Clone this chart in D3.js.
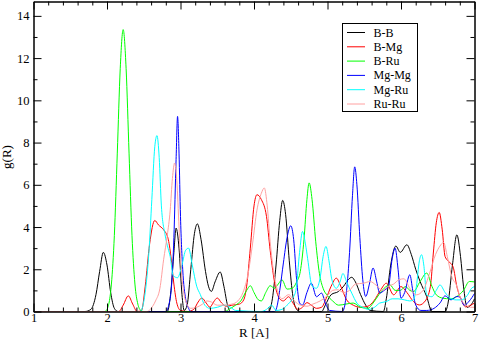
<!DOCTYPE html>
<html>
<head>
<meta charset="utf-8">
<script src="https://cdn.jsdelivr.net/npm/d3@7"></script>
<style>
body { margin: 0; background: #fff; }
svg { display: block; }
</style>
</head>
<body>
<svg width="480" height="340"></svg>
<script>
var names = ["B-B", "B-Mg", "B-Ru", "Mg-Mg", "Mg-Ru", "Ru-Ru"];
var colors = ["#000000", "#ff0000", "#00ff00", "#0000ff", "#00ffff", "#ffa0a0"];

// [R, g(R)]
var BB = [[1.0,0],[1.7,0],[1.78,0.1],[1.85,0.8],[1.9,1.9],[1.95,2.8],[2.0,2.2],[2.05,0.9],[2.1,0.15],[2.15,0],
	[2.82,0],[2.87,1.0],[2.91,2.8],[2.94,3.95],[2.98,3.0],[3.02,0.8],[3.05,0.05],[3.09,0.3],[3.14,2.0],[3.19,3.7],
	[3.23,4.15],[3.28,3.4],[3.34,1.9],[3.38,1.2],[3.42,0.95],[3.47,1.4],[3.54,1.87],[3.59,1.2],[3.64,0.3],[3.68,0],
	[4.2,0],[4.25,0.6],[4.3,2.2],[4.35,4.3],[4.39,5.26],[4.43,4.6],[4.48,2.4],[4.53,0.7],[4.58,0.1],[4.62,0],
	[4.92,0],[4.97,0.3],[5.05,0.8],[5.15,0.95],[5.22,1.2],[5.28,1.5],[5.33,1.62],[5.38,1.4],[5.45,0.8],[5.52,0.3],
	[5.58,0.05],[5.76,0],[5.8,0.6],[5.86,2.2],[5.93,3.1],[5.99,2.8],[6.08,3.16],[6.14,2.7],[6.2,2.0],[6.26,1.42],
	[6.35,0.7],[6.42,0],[6.6,0],[6.64,0.4],[6.7,2.2],[6.76,3.63],[6.81,2.6],[6.85,1.2],[6.9,0.2],[6.95,0.3],[7.0,0.6]];

var BMg = [[1.0,0],[2.16,0],[2.22,0.3],[2.29,0.74],[2.35,0.35],[2.41,0],[2.47,0.05],[2.52,1.2],[2.58,3.2],[2.65,4.31],
	[2.7,4.1],[2.77,3.87],[2.83,3.47],[2.87,2.6],[2.91,1.3],[2.95,0.4],[3.0,0.05],[3.1,0],[3.18,0.1],[3.24,0.45],
	[3.29,0.64],[3.35,0.4],[3.4,0.2],[3.45,0.45],[3.5,0.64],[3.56,0.4],[3.62,0.25],[3.7,0.3],[3.8,0.35],[3.86,0.55],
	[3.9,1.2],[3.95,3.0],[4.0,5.0],[4.04,5.53],[4.1,5.3],[4.17,4.5],[4.22,2.9],[4.29,1.2],[4.35,0.6],[4.4,0.5],
	[4.47,0.7],[4.53,0.4],[4.6,0.1],[4.66,0.2],[4.72,0.42],[4.78,0.3],[4.85,0.15],[4.92,0.2],[4.98,0.6],[5.05,1.2],
	[5.12,1.58],[5.18,1.2],[5.26,0.55],[5.35,0.3],[5.45,0.2],[5.55,0.25],[5.63,0.5],[5.72,1.0],[5.8,1.34],[5.9,0.79],
	[6.0,1.18],[6.08,0.9],[6.17,0.47],[6.25,0.31],[6.33,0.5],[6.4,1.19],[6.44,2.77],[6.48,4.2],[6.52,4.69],[6.56,3.9],
	[6.6,2.6],[6.67,2.3],[6.71,2.1],[6.76,1.18],[6.82,0.55],[6.88,0.22],[6.95,0.3],[7.0,0.4]];

var BRu = [[1.0,0],[1.97,0],[2.0,0.1],[2.06,1.3],[2.1,3.6],[2.14,7.5],[2.18,11.5],[2.22,13.35],[2.26,11.5],[2.3,7.5],
	[2.34,3.6],[2.38,1.3],[2.42,0.35],[2.46,0.05],[2.5,0],[3.6,0],[3.68,0.15],[3.75,0.3],[3.82,0.5],[3.9,1.0],
	[3.95,1.22],[4.0,0.9],[4.06,0.55],[4.1,0.5],[4.16,0.9],[4.22,1.22],[4.28,1.1],[4.33,1.3],[4.38,1.5],[4.45,1.06],
	[4.52,1.1],[4.58,1.4],[4.63,1.9],[4.68,3.4],[4.72,5.3],[4.75,6.09],[4.79,5.3],[4.84,3.3],[4.89,1.8],[4.94,1.1],
	[5.0,0.75],[5.07,0.5],[5.15,0.3],[5.25,0.35],[5.35,0.4],[5.45,0.2],[5.55,0.15],[5.62,0.4],[5.7,0.8],[5.77,1.1],
	[5.85,1.26],[5.92,1.0],[5.99,1.0],[6.06,1.18],[6.12,1.0],[6.17,0.95],[6.26,1.42],[6.35,1.82],[6.42,1.2],[6.48,0.79],
	[6.57,0.63],[6.67,0.6],[6.76,0.71],[6.85,1.0],[6.93,1.42],[7.0,1.4]];

var MgMg = [[1.0,0],[2.8,0],[2.84,0.3],[2.88,1.3],[2.91,3.5],[2.94,7.2],[2.96,9.24],[2.98,7.5],[3.0,4.5],[3.03,2.0],
	[3.07,0.6],[3.11,0.15],[3.14,0],[4.28,0],[4.31,0.2],[4.35,1.0],[4.4,2.3],[4.45,3.5],[4.5,4.06],[4.54,3.4],
	[4.58,1.5],[4.62,0.4],[4.66,0.3],[4.72,0.9],[4.78,1.34],[4.85,0.7],[4.92,0.87],[4.97,0.4],[5.03,0.05],[5.2,0],
	[5.23,0.2],[5.26,1.0],[5.3,2.8],[5.34,5.5],[5.37,6.85],[5.4,6.0],[5.44,3.5],[5.48,1.5],[5.52,0.71],[5.57,1.3],
	[5.62,2.06],[5.67,1.4],[5.71,0.87],[5.77,1.0],[5.83,1.19],[5.88,2.5],[5.92,3.0],[5.96,2.0],[6.0,0.63],[6.05,0.9],
	[6.12,1.74],[6.16,1.0],[6.2,0.31],[6.27,0.05],[6.35,0.05],[6.45,0.15],[6.53,0.4],[6.6,0.74],[6.68,0.55],[6.76,0.71],
	[6.8,0.68],[6.86,0.3],[6.93,0.5],[7.0,0.85]];

var MgRu = [[1.0,0],[2.45,0],[2.49,0.3],[2.53,1.2],[2.57,2.8],[2.61,5.3],[2.65,7.8],[2.68,8.33],[2.71,7.3],[2.74,5.0],
	[2.79,3.63],[2.83,3.0],[2.86,2.6],[2.9,1.7],[2.96,1.6],[3.02,2.2],[3.07,2.9],[3.11,3.0],[3.16,2.2],[3.22,1.2],
	[3.27,0.8],[3.33,0.3],[3.4,0.15],[3.5,0.2],[3.6,0.3],[3.68,0.2],[3.75,0.05],[4.1,0],[4.17,0.1],[4.24,0.3],
	[4.3,0.05],[4.38,0.1],[4.45,0.3],[4.52,0.6],[4.57,1.0],[4.62,2.8],[4.66,3.79],[4.7,3.2],[4.73,2.5],[4.79,1.2],
	[4.85,1.1],[4.9,1.6],[4.94,2.6],[4.98,3.08],[5.02,2.4],[5.06,1.5],[5.12,1.1],[5.17,1.4],[5.21,1.8],[5.26,1.4],
	[5.33,0.87],[5.4,0.4],[5.48,0.2],[5.56,0.1],[5.64,0.2],[5.71,0.4],[5.8,0.47],[5.88,0.6],[5.96,0.6],[6.05,0.55],
	[6.12,0.5],[6.17,0.55],[6.21,1.2],[6.25,2.4],[6.28,2.69],[6.31,2.2],[6.35,0.79],[6.42,0.7],[6.48,1.0],[6.53,1.26],
	[6.6,0.9],[6.67,0.63],[6.75,0.55],[6.82,0.55],[6.9,0.75],[6.96,1.1],[7.0,1.18]];

var RuRu = [[1.0,0],[2.55,0],[2.6,0.15],[2.66,0.5],[2.72,1.1],[2.77,2.45],[2.82,3.6],[2.86,4.8],[2.89,6.3],[2.92,7.03],
	[2.95,6.2],[2.98,4.0],[3.01,2.0],[3.04,1.0],[3.08,0.4],[3.14,0.15],[3.22,0.2],[3.3,0.35],[3.36,0.5],[3.42,0.45],
	[3.5,0.3],[3.6,0.3],[3.7,0.35],[3.78,0.5],[3.85,0.9],[3.92,1.8],[3.98,3.2],[4.04,4.8],[4.1,5.6],[4.14,5.85],
	[4.18,5.0],[4.22,3.3],[4.27,1.8],[4.32,1.0],[4.38,0.6],[4.47,0.8],[4.55,0.5],[4.63,0.3],[4.72,0.25],[4.8,0.35],
	[4.9,0.5],[5.0,0.75],[5.07,1.0],[5.14,1.03],[5.22,0.9],[5.3,1.0],[5.38,1.3],[5.49,1.34],[5.58,1.42],[5.66,1.25],
	[5.75,1.0],[5.82,1.18],[5.9,1.3],[5.97,1.5],[6.04,1.55],[6.12,1.1],[6.21,0.79],[6.3,1.0],[6.39,1.82],[6.47,2.7],
	[6.53,3.1],[6.58,3.27],[6.63,2.6],[6.69,1.66],[6.76,1.2],[6.8,0.71],[6.88,0.31],[6.95,0.2],[7.0,0.2]];

var series = [BB, BMg, BRu, MgMg, MgRu, RuRu];

var xTicks = [1, 2, 3, 4, 5, 6, 7];
var yTicks = [0, 2, 4, 6, 8, 10, 12, 14];
var xLabel = "R [A]",
	yLabel = "g(R)";

var font = "'Liberation Serif', 'Times New Roman', serif";

var svg = d3.select("svg");

var x = d3.scaleLinear().domain([1, 7]).range([33.5, 474.5]);
var y = d3.scaleLinear().domain([0, 14.68]).range([311.5, 1.5]);

var xMinor = d3.range(1, 7.001, 0.2).filter(function(d) { return Math.abs(d - Math.round(d)) > 0.01; });
var yMinor = [1, 3, 5, 7, 9, 11, 13];

var line = d3.line()
	.x(function(d) { return x(d[0]); })
	.y(function(d) { return y(d[1]); })
	.curve(d3.curveMonotoneX);

svg.append("g")
	.selectAll("path")
	.data(series)
	.enter().append("path")
	.attr("fill", "none")
	.attr("stroke", function(d, i) { return colors[i]; })
	.attr("stroke-width", 1)
	.attr("stroke-linejoin", "round")
	.attr("d", line);

function styleAxis(sel) {
	sel.attr("font-family", font).attr("font-size", 12.5);
	sel.selectAll("line").attr("stroke", "#000");
	sel.selectAll("path").attr("stroke", "#000");
	sel.selectAll("text").attr("fill", "#000");
}

// major ticks, all four sides, pointing inward
svg.append("g")
	.attr("transform", "translate(0,311.5)")
	.call(d3.axisBottom(x).tickValues(xTicks).tickSize(-8).tickSizeOuter(0).tickPadding(2).tickFormat(d3.format("d")))
	.call(styleAxis);
svg.append("g")
	.attr("transform", "translate(0,1.5)")
	.call(d3.axisTop(x).tickValues(xTicks).tickSize(-8).tickSizeOuter(0).tickFormat(""))
	.call(styleAxis);
svg.append("g")
	.attr("transform", "translate(33.5,0)")
	.call(d3.axisLeft(y).tickValues(yTicks).tickSize(-8).tickSizeOuter(0).tickPadding(4).tickFormat(d3.format("d")))
	.call(styleAxis);
svg.append("g")
	.attr("transform", "translate(474.5,0)")
	.call(d3.axisRight(y).tickValues(yTicks).tickSize(-8).tickSizeOuter(0).tickFormat(""))
	.call(styleAxis);

// minor ticks
svg.append("g")
	.attr("transform", "translate(0,311.5)")
	.call(d3.axisBottom(x).tickValues(xMinor).tickSize(-4).tickSizeOuter(0).tickFormat(""))
	.call(styleAxis);
svg.append("g")
	.attr("transform", "translate(0,1.5)")
	.call(d3.axisTop(x).tickValues(xMinor).tickSize(-4).tickSizeOuter(0).tickFormat(""))
	.call(styleAxis);
svg.append("g")
	.attr("transform", "translate(33.5,0)")
	.call(d3.axisLeft(y).tickValues(yMinor).tickSize(-4).tickSizeOuter(0).tickFormat(""))
	.call(styleAxis);
svg.append("g")
	.attr("transform", "translate(474.5,0)")
	.call(d3.axisRight(y).tickValues(yMinor).tickSize(-4).tickSizeOuter(0).tickFormat(""))
	.call(styleAxis);

svg.append("text")
	.attr("x", 254)
	.attr("y", 337)
	.attr("text-anchor", "middle")
	.attr("font-family", font)
	.attr("font-size", 13)
	.text(xLabel);

svg.append("text")
	.attr("transform", "translate(11,157) rotate(-90)")
	.attr("text-anchor", "middle")
	.attr("font-family", font)
	.attr("font-size", 13)
	.text(yLabel);

// legend
var legend = svg.append("g").attr("transform", "translate(342.5,23.5)");

legend.append("rect")
	.attr("width", 75)
	.attr("height", 88)
	.attr("fill", "#fff")
	.attr("stroke", "#000")
	.attr("stroke-width", 1);

var row = legend.selectAll("g.row")
	.data(names)
	.enter().append("g")
	.attr("class", "row")
	.attr("transform", function(d, i) { return "translate(0," + (9 + i * 14.3) + ")"; });

row.append("line")
	.attr("x1", 4.5)
	.attr("x2", 22.5)
	.attr("stroke", function(d, i) { return colors[i]; })
	.attr("stroke-width", 1);

row.append("text")
	.attr("x", 31)
	.attr("y", 4)
	.attr("font-family", font)
	.attr("font-size", 12)
	.text(function(d) { return d; });
</script>
</body>
</html>
